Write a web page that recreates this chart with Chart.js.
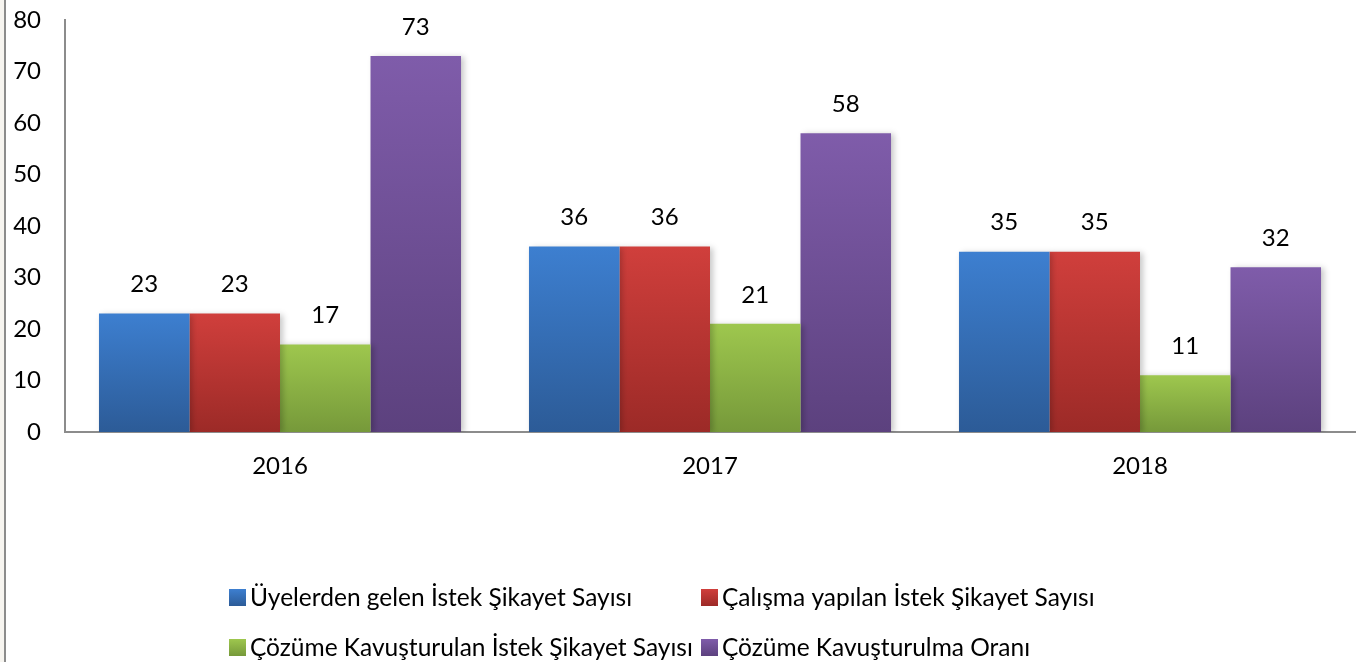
<!DOCTYPE html>
<html>
<head>
<meta charset="utf-8">
<script src="https://cdn.jsdelivr.net/npm/chart.js@4/dist/chart.umd.min.js"></script>
<style>
  html, body { margin: 0; padding: 0; background: #fff; }
  #wrap { position: relative; width: 1360px; height: 662px; overflow: hidden; }
  #frame { position: absolute; left: 4px; top: 0; width: 2px; height: 662px; background: #8c8c8c; }
  #edge { position: absolute; left: 0; top: 0; width: 4px; height: 662px; background: #f7f5f0; }
  canvas { position: absolute; left: 0; top: 0; }
</style>
</head>
<body>
<div id="wrap">
  <canvas id="c" width="1360" height="662"></canvas>
  <div id="edge"></div>
  <div id="frame"></div>
</div>
<script>
const categories = ['2016', '2017', '2018'];
const seriesNames = [
  'Üyelerden gelen İstek Şikayet Sayısı',
  'Çalışma yapılan İstek Şikayet Sayısı',
  'Çözüme Kavuşturulan İstek Şikayet Sayısı',
  'Çözüme Kavuşturulma Oranı'
];
const uyelerden = [23, 36, 35];
const calisma = [23, 36, 35];
const cozume = [17, 21, 11];
const oran = [73, 58, 32];
const yTicks = [0, 10, 20, 30, 40, 50, 60, 70, 80];

const colorsTop = ['#3d7fd0', '#d03f3c', '#9ec74e', '#7f5caa'];
const colorsBottom = ['#2c5b97', '#9c2a27', '#76993a', '#5c417e'];
const FONT = 'Lato, Calibri, "Liberation Sans", sans-serif';
const FS = 24;

function grad(i) {
  return function (ctx) {
    const chart = ctx.chart;
    const y = chart.scales.y;
    if (!y || ctx.type !== 'data') return colorsTop[i];
    const top = y.getPixelForValue(ctx.raw);
    const bottom = y.getPixelForValue(0);
    if (!isFinite(top) || !isFinite(bottom) || top === bottom) return colorsTop[i];
    const g = chart.ctx.createLinearGradient(0, top, 0, bottom);
    g.addColorStop(0, colorsTop[i]);
    g.addColorStop(1, colorsBottom[i]);
    return g;
  };
}

const seriesData = [uyelerden, calisma, cozume, oran];

const valueLabels = {
  id: 'valueLabels',
  afterDatasetsDraw(chart) {
    const ctx = chart.ctx;
    ctx.save();
    ctx.font = FS + 'px ' + FONT;
    ctx.fillStyle = '#000';
    ctx.textAlign = 'center';
    ctx.textBaseline = 'middle';
    chart.data.datasets.forEach((ds, i) => {
      chart.getDatasetMeta(i).data.forEach((bar, j) => {
        ctx.fillText(String(ds.data[j]), bar.x, bar.y - 29);
      });
    });
    ctx.restore();
  }
};

const barShadow = {
  id: 'barShadow',
  beforeDatasetsDraw(chart) {
    const ctx = chart.ctx;
    ctx.save();
    ctx.shadowColor = 'rgba(0,0,0,0.22)';
    ctx.shadowBlur = 6;
    ctx.shadowOffsetX = 3;
    ctx.shadowOffsetY = 1;
  },
  afterDatasetsDraw(chart) {
    chart.ctx.restore();
  }
};

const legendPlugin = {
  id: 'customLegend',
  afterDraw(chart) {
    const ctx = chart.ctx;
    ctx.save();
    ctx.font = '24.5px ' + FONT;
    ctx.textAlign = 'left';
    ctx.textBaseline = 'middle';
    const cols = [229, 701];
    const rows = [597, 647];
    seriesNames.forEach((name, i) => {
      const x = cols[i % 2];
      const y = rows[Math.floor(i / 2)];
      const g = ctx.createLinearGradient(0, y - 8, 0, y + 9);
      g.addColorStop(0, colorsTop[i]);
      g.addColorStop(1, colorsBottom[i]);
      ctx.fillStyle = g;
      ctx.fillRect(x, y - 8, 17, 17);
      ctx.fillStyle = '#000';
      ctx.fillText(name, x + 21, y + 1);
    });
    ctx.restore();
  }
};

new Chart(document.getElementById('c'), {
  type: 'bar',
  data: {
    labels: categories,
    datasets: seriesData.map((d, i) => ({
      label: seriesNames[i],
      data: d,
      backgroundColor: grad(i),
      borderWidth: 0,
      barPercentage: 1.0,
      categoryPercentage: 0.842
    }))
  },
  options: {
    responsive: false,
    animation: false,
    events: [],
    layout: { padding: { top: 20, right: 5, left: 0, bottom: 0 } },
    plugins: {
      legend: { display: false },
      tooltip: { enabled: false }
    },
    scales: {
      x: {
        grid: { display: false, drawTicks: false },
        border: { display: true, color: '#8c8c8c', width: 2 },
        ticks: { color: '#000', font: { size: FS, family: FONT }, padding: 20 },
        afterFit(scale) { scale.height = 230; }
      },
      y: {
        min: 0,
        max: 80,
        afterBuildTicks(scale) { scale.ticks = yTicks.map(v => ({ value: v })); },
        grid: { display: false, drawTicks: false },
        border: { display: true, color: '#8c8c8c', width: 2 },
        ticks: { color: '#000', font: { size: FS, family: FONT }, padding: 24 },
        afterFit(scale) { scale.width = 65; scale.paddingTop = 0; scale.paddingBottom = 0; }
      }
    }
  },
  plugins: [barShadow, valueLabels, legendPlugin]
});
</script>
</body>
</html>
